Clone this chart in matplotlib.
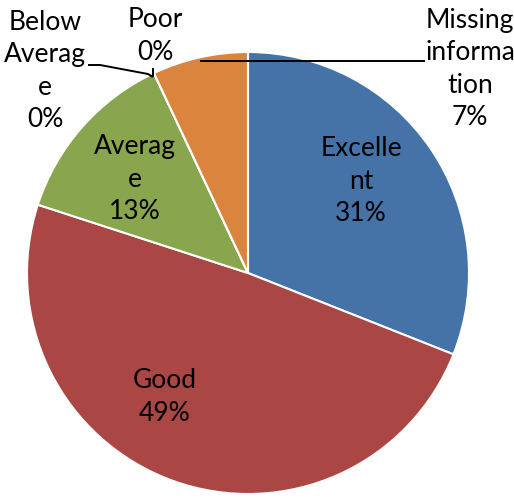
"""
Pie chart of rating shares with wrapped data labels.
"""

import matplotlib
matplotlib.use('Agg')
from matplotlib import pyplot as plt

plt.rcParams['font.family'] = ['Lato', 'DejaVu Sans']

categories = ['Excellent', 'Good', 'Average', 'Below Average', 'Poor',
              'Missing information']
shares = [31, 49, 13, 0, 0, 7]
label_text = ['Excelle\nnt', 'Good', 'Averag\ne', 'Below\nAverag\ne', 'Poor',
              'Missing\ninforma\ntion']
colors = ['#4572A7', '#AA4643', '#89A54E', '#80699B', '#3D96AE', '#DB843D']

W, H = 514, 499

fig = plt.figure(figsize=(W / 100, H / 100), dpi=100)
ax = fig.add_axes([0, 0, 1, 1])
ax.set_axis_off()

ax.pie(shares, colors=colors, center=(248, H - 273), radius=221,
       startangle=90, counterclock=False,
       wedgeprops=dict(edgecolor='white', linewidth=1.5))
ax.set_xlim(0, W)
ax.set_ylim(0, H)
ax.set_aspect('equal')

# label centres in pixels from top-left
label_pos = [(361, 181), (165, 397), (135, 179), (45, 71), (155, 36),
             (470, 69)]
for text, share, (x, y) in zip(label_text, shares, label_pos):
    ax.text(x, H - y, f'{text}\n{share}%', ha='center', va='center',
            fontsize=19, linespacing=1.38, color='black')


# leader lines
def leader(xs, ys):
    ax.plot(xs, [H - v for v in ys], color='black', lw=1.4,
            solid_capstyle='butt')


leader([200, 425], [61, 61])
leader([88, 100, 148, 153], [65, 65, 74, 77])
leader([153, 153], [68, 77])

fig.savefig('out.png', dpi=100)
